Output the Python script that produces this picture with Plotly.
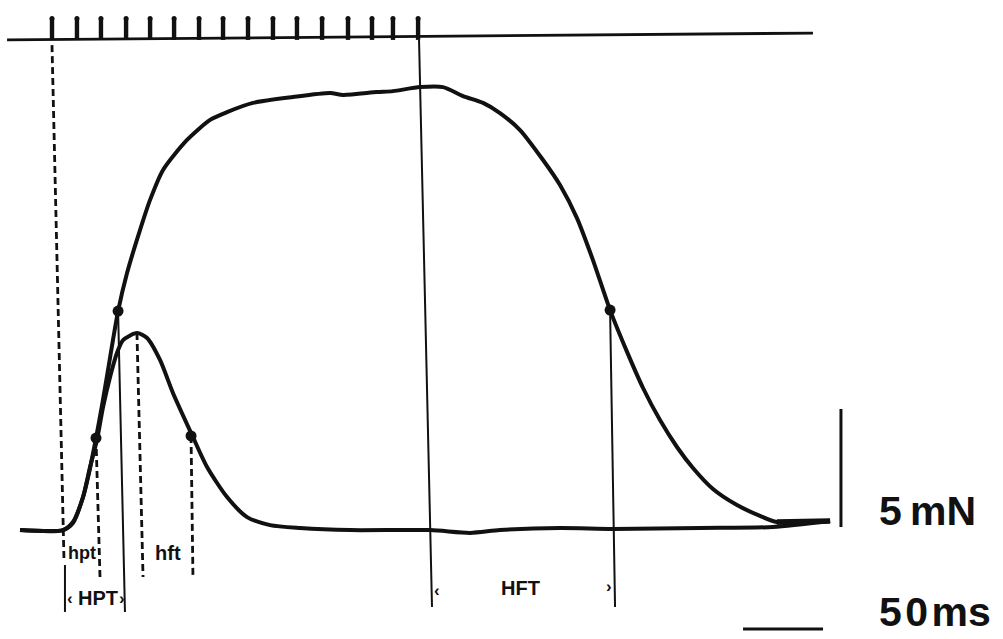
import plotly.graph_objects as go

# --- Force records (time in ms from first stimulus, force in mN) ---
tetanus_t = [-20.0, 6.9, 13.1, 19.4, 23.8, 27.5, 31.3, 35.0, 38.1, 41.3, 46.9, 55.0,
             61.3, 69.4, 84.4, 98.8, 109.4, 125.6, 150.6, 173.8, 181.9, 203.1, 213.1,
             230.0, 244.4, 256.9, 269.4, 280.0, 292.5, 306.9, 317.5, 328.1, 338.1,
             348.8, 359.4, 369.4, 380.0, 390.6, 400.6, 413.1, 428.1, 442.5, 453.1, 486.3]
tetanus_f = [-0.13, -0.13, 0.21, 1.27, 2.50, 3.77, 5.17, 6.65, 7.92, 9.15, 10.76, 12.58,
             13.86, 15.13, 16.40, 17.25, 17.58, 17.97, 18.22, 18.39, 18.31, 18.43, 18.47,
             18.64, 18.64, 18.26, 17.97, 17.54, 16.82, 15.55, 14.49, 13.09, 11.31,
             9.19, 7.42, 5.89, 4.53, 3.39, 2.50, 1.61, 0.93, 0.47, 0.21, 0.25]

twitch_t = [-20.0, 6.9, 13.1, 19.4, 23.8, 28.1, 31.9, 36.3, 40.6, 44.4, 53.1, 59.4,
            67.5, 75.6, 87.5, 96.9, 109.4, 121.9, 136.3, 155.0, 186.3, 236.3, 261.3,
            280.0, 317.5, 350.6, 405.0, 450.6, 486.3]
twitch_f = [-0.13, -0.13, 0.17, 1.27, 2.54, 3.69, 5.08, 6.36, 7.37, 7.92, 8.22, 8.01,
            7.08, 5.68, 3.90, 2.54, 1.27, 0.42, 0.08, -0.04, -0.13, -0.13, -0.25,
            -0.13, -0.04, -0.08, -0.04, 0.0, 0.25]

# Half-maximum points
twitch_half_t = [27.5, 86.9]
twitch_half_f = [3.77, 3.86]
tetanus_half_t = [41.3, 348.8]
tetanus_half_f = [9.15, 9.19]

# Stimulus train (pulse times, ms)
stim_pulse_t = [0.0, 15.6, 30.6, 46.3, 61.3, 76.3, 91.9, 106.9, 122.5, 138.1,
                153.1, 168.8, 185.0, 200.0, 213.1, 228.8]
stim_line_t = [-28.1, 475.6]
stim_line_f = [20.64, 20.93]
stim_pulse_top = 21.55

# Time markers: (t_top, f_top, t_bottom, f_bottom)
dashed_markers = [
    (0.0, 20.42, 7.5, -1.40),     # contraction onset
    (27.5, 3.77, 30.0, -2.12),    # twitch half rise
    (53.1, 8.22, 56.9, -2.12),    # twitch peak
    (86.9, 3.86, 88.1, -2.12),    # twitch half relaxation
]
solid_markers = [
    (8.1, -1.61, 8.1, -3.60),     # HPT start
    (41.3, 9.15, 45.6, -3.60),    # tetanus half rise
    (229.4, 20.64, 237.5, -3.39), # end of stimulation
    (348.8, 9.19, 351.9, -3.39),  # tetanus half relaxation
]

# Scale bars
force_bar_t = 493.1
force_bar_f = [0.0, 5.0]
time_bar_t = [431.9, 481.9]
time_bar_f = -4.32

FONT = "Liberation Sans, Arial, sans-serif"
INK = "#111111"

fig = go.Figure()


def seg_trace(segs, width, dash="solid"):
    xs, ys = [], []
    for t0, f0, t1, f1 in segs:
        xs += [t0, t1, None]
        ys += [f0, f1, None]
    return go.Scatter(x=xs, y=ys, mode="lines", hoverinfo="skip", showlegend=False,
                      line=dict(color=INK, width=width, dash=dash))


fig.add_trace(seg_trace(dashed_markers, 2.8, dash="7px,4px"))
fig.add_trace(seg_trace(solid_markers, 2.0))

# Stimulus line and pulses (rounded tops)
fig.add_trace(go.Scatter(x=stim_line_t, y=stim_line_f, mode="lines", showlegend=False,
                         hoverinfo="skip", line=dict(color=INK, width=2.8)))
fig.add_trace(seg_trace([(t, stim_line_f[0], t, stim_pulse_top) for t in stim_pulse_t], 4.4))
fig.add_trace(go.Scatter(x=stim_pulse_t, y=[stim_pulse_top] * len(stim_pulse_t), mode="markers",
                         showlegend=False, hoverinfo="skip",
                         marker=dict(color=INK, size=5, line=dict(width=0))))

# Force traces
fig.add_trace(go.Scatter(x=twitch_t, y=twitch_f, mode="lines", name="twitch", showlegend=False,
                         line=dict(color=INK, width=4, shape="spline", smoothing=0.7)))
fig.add_trace(go.Scatter(x=tetanus_t, y=tetanus_f, mode="lines", name="tetanus", showlegend=False,
                         line=dict(color=INK, width=4, shape="spline", smoothing=0.7)))
fig.add_trace(go.Scatter(x=tetanus_t[-2:], y=tetanus_f[-2:], mode="lines", showlegend=False,
                         hoverinfo="skip", line=dict(color=INK, width=5.5)))

# Half-maximum dots
fig.add_trace(go.Scatter(x=twitch_half_t + tetanus_half_t, y=twitch_half_f + tetanus_half_f,
                         mode="markers", showlegend=False,
                         marker=dict(color=INK, size=11, line=dict(width=0))))

# Scale bars
fig.add_trace(seg_trace([(force_bar_t, force_bar_f[0], force_bar_t, force_bar_f[1]),
                         (time_bar_t[0], time_bar_f, time_bar_t[1], time_bar_f)], 3))

labels = [
    ("hpt", 19.0, -1.10, 18, "center"),
    ("hft", 72.2, -1.10, 20, "center"),
    ("‹", 11.0, -3.01, 17, "center"),
    ("HPT", 28.8, -3.01, 20, "center"),
    ("›", 44.0, -3.01, 17, "center"),
    ("‹", 240.8, -2.67, 17, "center"),
    ("HFT", 292.5, -2.58, 20, "center"),
    ("›", 348.0, -2.54, 17, "center"),
    ("5\u2009mN", 515.6, 0.66, 41, "left"),
    ("5\u200a0\u200ams", 515.6, -3.6, 41, "left"),
]
for text, t, f, size, anchor in labels:
    fig.add_annotation(x=t, y=f, text=f"<b>{text}</b>", showarrow=False, xanchor=anchor,
                       yanchor="middle", font=dict(family=FONT, size=size, color=INK))

fig.update_layout(
    width=1003, height=639,
    margin=dict(l=0, r=0, t=0, b=0),
    paper_bgcolor="white", plot_bgcolor="white",
    xaxis=dict(range=[-32.5, 594.375], visible=False, fixedrange=True),
    yaxis=dict(range=[-4.746, 22.331], visible=False, fixedrange=True),
)

fig.write_html("out.html")
